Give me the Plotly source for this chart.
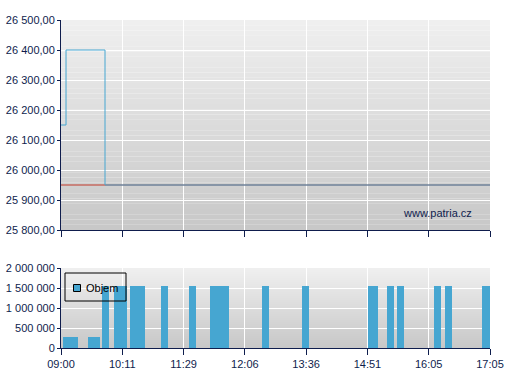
import plotly.graph_objects as go

# ---- data ----
tick_pos = [0, 10, 20, 30, 40, 50, 60, 70]
tick_labels = ["09:00", "10:11", "11:29", "12:06", "13:36", "14:51", "16:05", "17:05"]

price_x = [0, 0.82, 7.18, 70]
price_y = [26150, 26400, 25950, 25950]
prev_close = 25950

vol_name = "Objem"
vol_x = [1.55, 5.4, 7.26, 9.7, 12.5, 16.9, 21.45, 25.9, 33.35, 39.9, 50.9, 53.75, 55.4, 61.4, 63.2, 69.35]
vol_w = [2.45, 1.96, 1.14, 2.1, 2.45, 1.14, 1.14, 3.1, 1.14, 1.14, 1.63, 1.14, 1.14, 1.14, 1.14, 1.3]
vol_y = [280000, 280000, 1550000, 1550000, 1550000, 1550000, 1550000, 1550000,
         1550000, 1550000, 1550000, 1550000, 1550000, 1550000, 1550000, 1550000]

NAVY = "#0f1d4d"
BLUE = "#46a6d1"
FONT = "Liberation Sans, Arial, sans-serif"
FS = 11

fig = go.Figure()

fig.add_trace(go.Scatter(x=[0, 70], y=[prev_close, prev_close], mode="lines",
                         line=dict(color="#c0392b", width=1), showlegend=False,
                         hoverinfo="skip", xaxis="x", yaxis="y"))
fig.add_trace(go.Scatter(x=price_x, y=price_y, mode="lines", line_shape="hv",
                         line=dict(color=BLUE, width=1), showlegend=False,
                         xaxis="x", yaxis="y"))
fig.add_trace(go.Bar(x=vol_x, y=vol_y, width=vol_w, name=vol_name,
                     marker=dict(color=BLUE, line=dict(width=0)),
                     showlegend=False, xaxis="x2", yaxis="y2"))

# gradient backgrounds
shapes = []
N = 40
def lerp(a, b, t):
    return int(round(a + (b - a) * t))
for xr, yr in [("x domain", "y domain"), ("x2 domain", "y2 domain")]:
    for i in range(N):
        t = i / (N - 1)
        c = lerp(0xef, 0xc8, t)
        shapes.append(dict(type="rect", xref=xr, yref=yr, x0=0, x1=1,
                           y0=1 - (i + 1) / N, y1=1 - i / N,
                           fillcolor=f"rgb({c},{c},{c})", line=dict(width=0), layer="below"))

def px(x):
    return (x - 61) / 429
def py(y):
    return (348 - y) / 328

# legend box and symbol
shapes.append(dict(type="rect", xref="paper", yref="paper",
                   x0=px(65), x1=px(126), y0=py(301), y1=py(273),
                   line=dict(color="black", width=1), fillcolor="rgba(0,0,0,0)"))
shapes.append(dict(type="rect", xref="paper", yref="paper",
                   x0=px(73.5), x1=px(80.5), y0=py(291.5), y1=py(284.5),
                   line=dict(color="black", width=1), fillcolor=BLUE))

def ax(**kw):
    d = dict(showline=True, linecolor=NAVY, linewidth=1, gridcolor="white", gridwidth=1,
             zeroline=False, ticks="outside", tickcolor=NAVY, ticklen=4, automargin=False,
             tickfont=dict(color=NAVY, size=FS, family=FONT))
    d.update(kw)
    return d

fig.update_layout(
    width=507, height=380,
    margin=dict(l=61, r=17, t=20, b=32),
    paper_bgcolor="white", plot_bgcolor="rgba(0,0,0,0)",
    separators=", ",
    font=dict(family=FONT, color=NAVY, size=FS),
    shapes=shapes,
    bargap=0,
    showlegend=False,
    xaxis=ax(domain=[0, 1], range=[0, 70], tickvals=tick_pos, showticklabels=False,
             anchor="y", ticklen=6),
    yaxis=ax(domain=[py(230), 1], range=[25800, 26500], dtick=100,
             tickformat=",.2f", anchor="x", ticklen=3),
    xaxis2=ax(domain=[0, 1], range=[0, 70], tickvals=tick_pos, ticktext=tick_labels,
              anchor="y2", ticklen=6),
    yaxis2=ax(domain=[0, py(268)], range=[0, 2000000], dtick=500000,
              tickformat=",d", anchor="x2", ticklen=3),
    annotations=[
        dict(text="www.patria.cz", xref="x domain", yref="y domain",
             x=0.963, y=0.08, xanchor="right", yanchor="middle", showarrow=False,
             font=dict(color=NAVY, size=FS, family=FONT)),
        dict(text=vol_name, xref="paper", yref="paper", x=px(84), y=py(288),
             xanchor="left", yanchor="middle", showarrow=False,
             font=dict(color="black", size=FS, family=FONT)),
    ],
)

fig.write_html("out.html")
